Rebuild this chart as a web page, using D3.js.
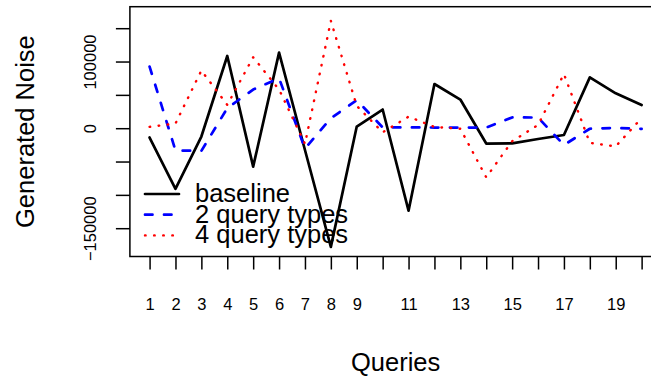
<!DOCTYPE html>
<html>
<head>
<meta charset="utf-8">
<script src="https://cdn.jsdelivr.net/npm/d3@7"></script>
<style>
  body { margin: 0; background: #fff; }
  svg { display: block; }
  text { font-family: "Liberation Sans", Arial, Helvetica, sans-serif; fill: #000; }
</style>
</head>
<body>
<svg id="chart" width="651" height="376"></svg>
<script>
// Query index on the x axis
const queries = [1, 2, 3, 4, 5, 6, 7, 8, 9, 10, 11, 12, 13, 14, 15, 16, 17, 18, 19, 20];

// Generated noise per query for each configuration
const baseline   = [-14000, -91000, -12500, 108300, -57700, 113300, -32700, -178000, 2500, 28000,
                    -123700, 66300, 43000, -23000, -22700, -16200, -10200, 76300, 52300, 34800];
const twoTypes   = [92400, -33500, -34000, 30000, 58000, 75000, -30500, 15000, 42000, 1200,
                    1200, 1000, 900, 1000, 16200, 16000, -25200, -800, 500, -1000];
const fourTypes  = [2000, 7000, 86500, 35000, 106400, 58000, -23500, 161000, 33500, -6200,
                    17300, 1800, -800, -73700, -19500, 4800, 81300, -22000, -27300, 15300];

const seriesNames = ["baseline", "2 query types", "4 query types"];

// Axis ticks and their labels (empty labels are ticks without text)
const xTickLabels = ["1", "2", "3", "4", "5", "6", "7", "8", "9", "", "11", "", "13", "", "15", "", "17", "", "19", ""];
const yTicks      = [-150000, -100000, -50000, 0, 50000, 100000, 150000];
const yTickLabels = ["\u2212150000", "", "", "0", "", "100000", ""];

const svg = d3.select("#chart");
const plot = { left: 129.9, right: 661.3, top: 6.7, bottom: 256.5 };

const x = d3.scaleLinear().domain([0.24, 20.76]).range([plot.left, plot.right]);
const y = d3.scaleLinear().domain([-192450, 182250]).range([plot.bottom, plot.top]);

const styles = [
  { color: "#000000", width: 2.7, dash: null },
  { color: "#0000ff", width: 2.7, dash: "7.5,11.5" },
  { color: "#ff0000", width: 2.4, dash: "0.6,8.5" }
];
const series = [baseline, twoTypes, fourTypes];

svg.append("defs").append("clipPath").attr("id", "plot-clip")
  .append("rect")
  .attr("x", plot.left).attr("y", plot.top)
  .attr("width", plot.right - plot.left).attr("height", plot.bottom - plot.top);

// Lines
const line = d3.line().x((d, i) => x(queries[i])).y(d => y(d));
const lines = svg.append("g").attr("clip-path", "url(#plot-clip)");
series.forEach((vals, k) => {
  lines.append("path")
    .datum(vals)
    .attr("d", line)
    .attr("fill", "none")
    .attr("stroke", styles[k].color)
    .attr("stroke-width", styles[k].width)
    .attr("stroke-linecap", "round")
    .attr("stroke-linejoin", "round")
    .attr("stroke-dasharray", styles[k].dash);
});

// Plot frame
svg.append("rect")
  .attr("x", plot.left).attr("y", plot.top)
  .attr("width", plot.right - plot.left).attr("height", plot.bottom - plot.top)
  .attr("fill", "none").attr("stroke", "#000").attr("stroke-width", 1.5);

// X axis
const xAxis = svg.append("g")
  .attr("transform", `translate(0,${plot.bottom})`)
  .call(d3.axisBottom(x).tickValues(queries).tickSize(13).tickPadding(29)
        .tickFormat((d, i) => xTickLabels[i]));
xAxis.select(".domain").remove();
xAxis.selectAll("line").attr("stroke", "#000").attr("stroke-width", 1.5);
xAxis.selectAll("text").attr("font-size", "16.5px")
  .style("font-family", '"Liberation Sans", Arial, Helvetica, sans-serif');

// Y axis with labels parallel to the axis
const yAxis = svg.append("g")
  .attr("transform", `translate(${plot.left},0)`)
  .call(d3.axisLeft(y).tickValues(yTicks).tickSize(14)
        .tickFormat((d, i) => yTickLabels[i]));
yAxis.select(".domain").remove();
yAxis.selectAll("line").attr("stroke", "#000").attr("stroke-width", 1.5);
yAxis.selectAll("text")
  .attr("transform", "rotate(-90)")
  .attr("x", 0).attr("y", -34).attr("dy", null)
  .attr("text-anchor", "middle")
  .attr("font-size", "16.5px")
  .style("font-family", '"Liberation Sans", Arial, Helvetica, sans-serif');

// Axis titles
svg.append("text")
  .attr("x", (plot.left + plot.right) / 2).attr("y", 371)
  .attr("text-anchor", "middle").attr("font-size", "25.5px")
  .text("Queries");
svg.append("text")
  .attr("transform", `translate(34,${(plot.top + plot.bottom) / 2}) rotate(-90)`)
  .attr("text-anchor", "middle").attr("font-size", "25.5px")
  .text("Generated Noise");

// Legend
const legend = svg.append("g").attr("transform", "translate(145,194)");
const rowGap = 20.7;
seriesNames.forEach((name, k) => {
  const row = legend.append("g").attr("transform", `translate(0,${k * rowGap})`);
  row.append("line")
    .attr("x1", 0).attr("x2", 34).attr("y1", 0).attr("y2", 0)
    .attr("stroke", styles[k].color)
    .attr("stroke-width", styles[k].width)
    .attr("stroke-linecap", "round")
    .attr("stroke-dasharray", styles[k].dash);
  row.append("text")
    .attr("x", 50).attr("y", 8)
    .attr("font-size", "25.5px")
    .text(name);
});
</script>
</body>
</html>
